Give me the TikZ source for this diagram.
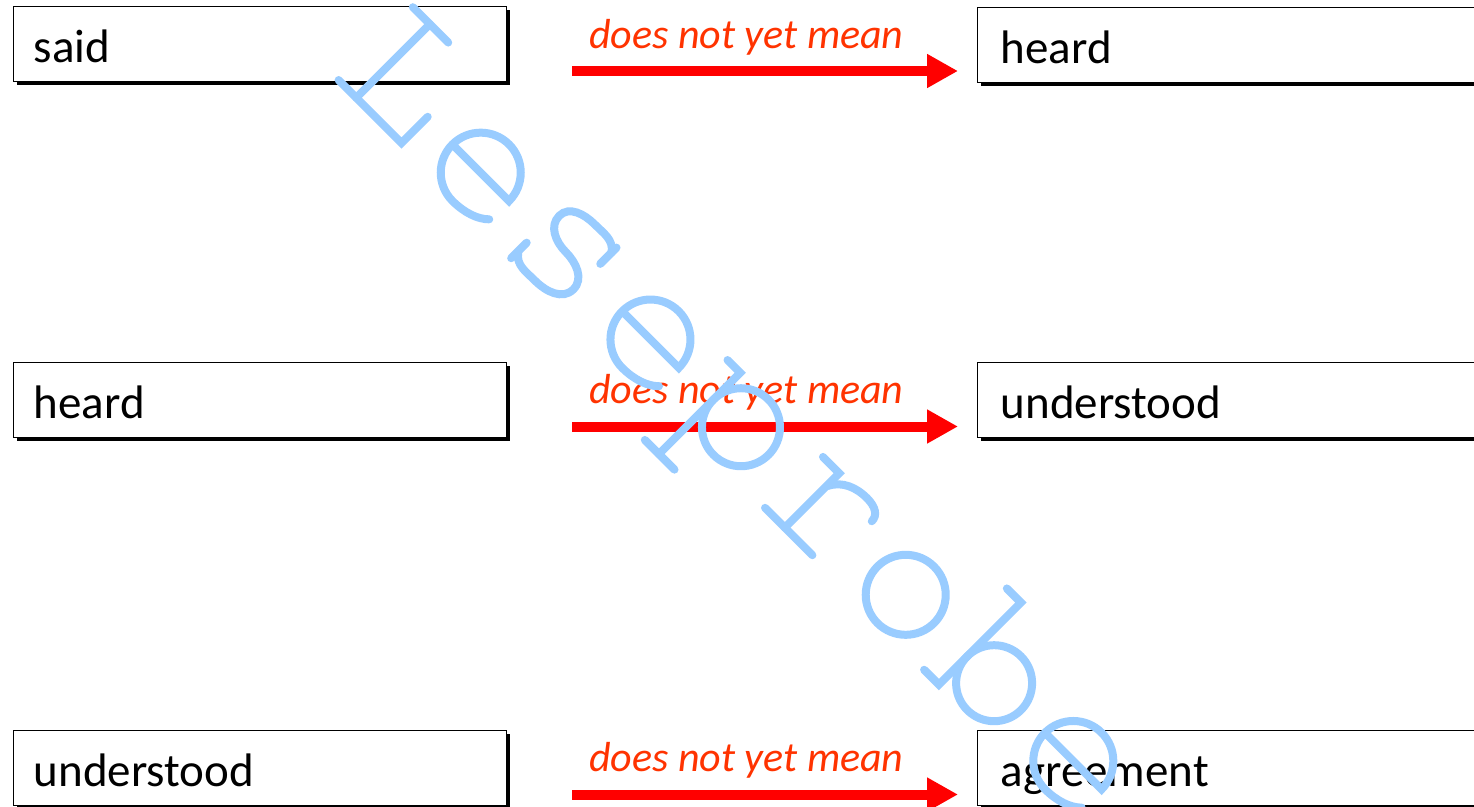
\documentclass[tikz,border=0pt]{standalone}
\usepackage{fontspec}
\setmainfont{Carlito}
\usetikzlibrary{arrows.meta,shadows}

\definecolor{labelred}{RGB}{255,51,0}
\definecolor{arrowred}{RGB}{255,0,0}
\definecolor{wmblue}{RGB}{153,204,255}

\tikzset{
  box/.style={draw=black, line width=1.4pt, fill=white, rectangle, anchor=north west,
    minimum height=75pt, inner xsep=20pt, inner ysep=0pt, align=left,
    text height=37pt, text depth=0pt, font=\fontsize{47}{56}\selectfont,
    drop shadow={shadow xshift=3.5pt, shadow yshift=-3.5pt, opacity=1, fill=black}},
  leftbox/.style={box, minimum width=493pt, text width=453pt},
  rightbox/.style={box, minimum width=510pt, inner xsep=23pt, text width=464pt},
  meaning/.style={anchor=base west, inner sep=0pt, text=labelred,
    font=\fontsize{42}{50}\selectfont\itshape},
  flow/.style={draw=arrowred, line width=10pt, -{Triangle[length=31pt,width=32pt]}},
  wm/.style={draw=wmblue, line width=8pt, line cap=round}
}

\begin{document}
\begin{tikzpicture}[x=1pt, y=-1pt]
\fill[white] (0,0) rectangle (1474,806);
\useasboundingbox (0,0) rectangle (1474,806);

% three rows: source box, arrow with label, target box
\foreach \i/\dy/\src/\dst in {1/0/said/heard, 2/355.5/heard/understood, 3/723.5/understood/agreement} {
  \node[leftbox] (src\i) at (13,6+\dy) {\src};
  \node[rightbox] (dst\i) at (977,6.5+\dy) {\dst};
  \node[meaning] (lbl\i) at (589,48+\dy) {does not yet mean};
  \coordinate (tail\i) at (572,71+\dy);
  \coordinate (tip\i) at (958,71+\dy);
  \draw[flow] (tail\i) -- (tip\i);
}

% diagonal watermark lettering, drawn on a rotated baseline
\begin{scope}[shift={(357pt,-97pt)}, rotate=-45, x=1pt, y=1pt]
  % L
  \draw[wm] (-24,103) -- (26,103);
  \draw[wm] (0,103) -- (0,-1);
  \draw[wm] (-25,-1) -- (64,-1) -- (64,36);
  % the three e's: bar, bowl and open terminal, centred on the bowl
  \foreach \ex/\ey in {141/34, 379/36, 976/37} {
    \begin{scope}[shift={(\ex,\ey)}]
      \draw[wm] (-40,0) -- (40,0) arc[start angle=0, end angle=270, radius=40]
        .. controls (17,-40) and (31,-35) .. (39,-27);
    \end{scope}
  }
  % s
  \draw[wm] (290,54) -- (290,77);
  \draw[wm] (290,70) to[out=125,in=0] (258,78) to[out=180,in=90] (227,59)
    to[out=-90,in=180] (257,38) to[out=0,in=90] (289,17)
    to[out=-90,in=0] (256,-4) to[out=180,in=-55] (224,4);
  \draw[wm] (223,-5) -- (223,17);
  % p
  \draw[wm] (448,76) -- (466,76) -- (466,-39);
  \draw[wm] (446,-39) -- (488,-39);
  \draw[wm] (505,38) circle[radius=39];
  % r
  \draw[wm] (584,75) -- (607,75) -- (607,-2);
  \draw[wm] (579,-2) -- (646,-2);
  \draw[wm] (608,58) .. controls (615,72) and (630,77) .. (644,77)
    .. controls (657,77) and (664,72) .. (664,64);
  % o
  \draw[wm] (740,36) circle[radius=40];
  % b
  \draw[wm] (807,112) -- (827,112) -- (827,-4) -- (806,-4);
  \draw[wm] (865,36) circle[radius=38];
\end{scope}
\end{tikzpicture}
\end{document}
